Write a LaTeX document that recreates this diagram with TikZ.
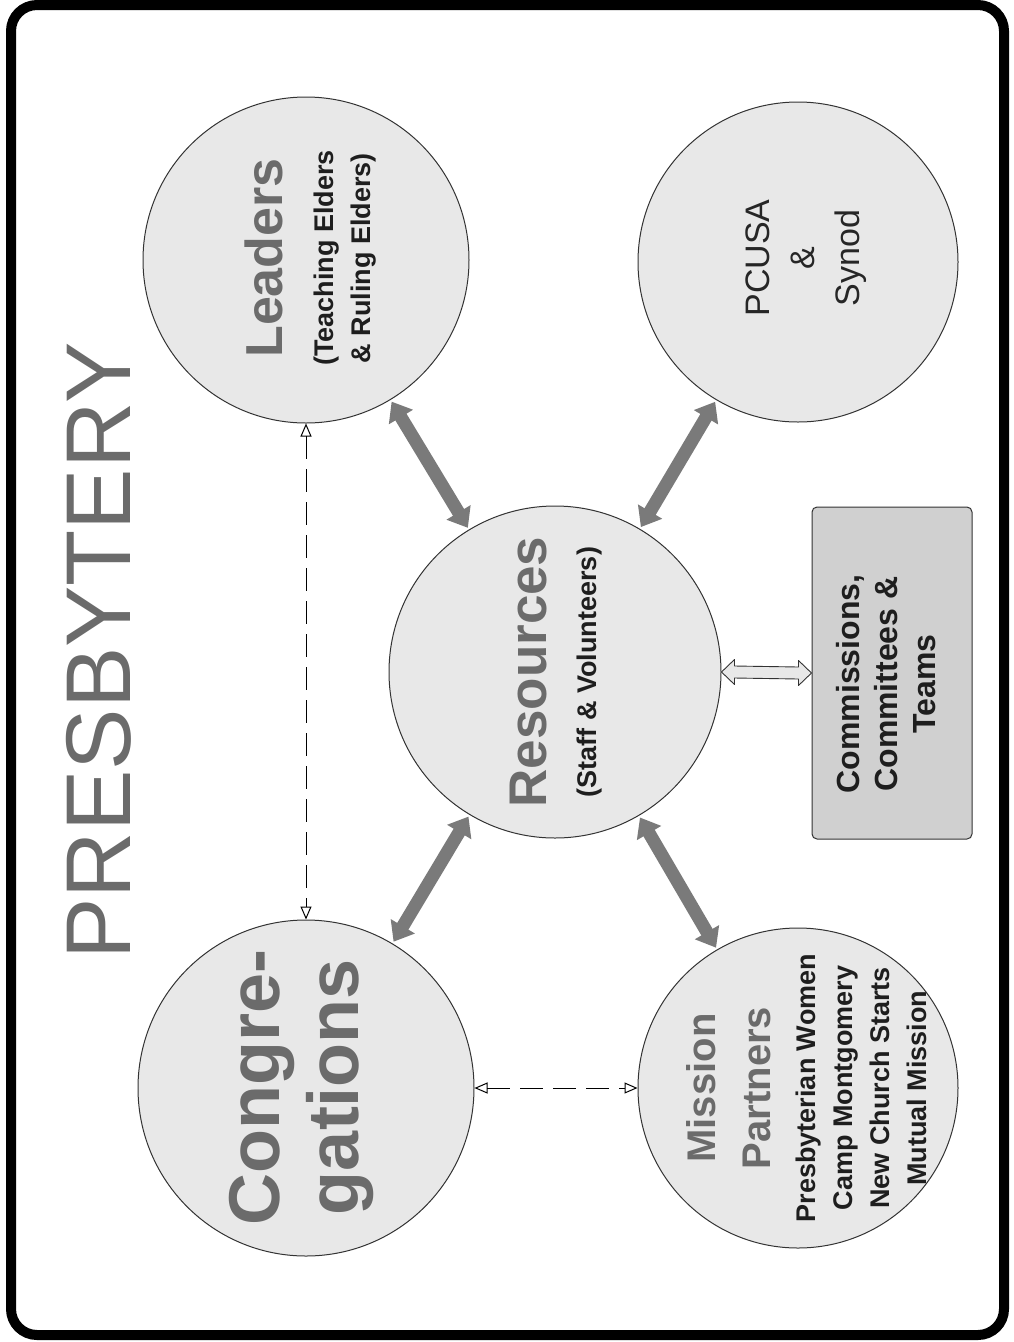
\documentclass[tikz,border=0pt]{standalone}
\usepackage{fontspec}
\setmainfont{Liberation Sans}
\usetikzlibrary{arrows.meta,calc}

\definecolor{bubblegray}{HTML}{E8E8E8}
\definecolor{boxgray}{HTML}{D0D0D0}
\definecolor{labelgray}{HTML}{6B6B6B}
\definecolor{arrowgray}{HTML}{7A7A7A}
\definecolor{inkgray}{HTML}{1E1E1E}

\newcommand{\graylabel}[2]{\fontsize{#1}{#2}\selectfont\bfseries\color{labelgray}}
\newcommand{\smalllabel}{\fontsize{27}{37}\selectfont\bfseries\color{inkgray}}

\begin{document}
\begin{tikzpicture}[x=1pt,y=-1pt,
  bubble/.style={circle,draw=black!80,line width=1pt,fill=bubblegray,minimum size=#1,inner sep=0pt},
  bubble/.default=330pt,
  words/.style={rotate=90,align=center,inner sep=0pt},
  fatarrow/.style={line width=13pt,draw=arrowgray,shorten >=2pt,shorten <=2pt,
    {Triangle[width=27pt,length=18pt]}-{Triangle[width=27pt,length=18pt]}},
  dashline/.style={line width=1pt,dash pattern=on 23pt off 10pt,
    {Triangle[open,length=13pt,width=11pt]}-{Triangle[open,length=13pt,width=11pt]}}]
\useasboundingbox (0,0) rectangle (1014,1342);

% frame and title
\draw[line width=10pt,rounded corners=26pt] (11,5) rectangle (1004,1335);
\node[words,text=labelgray,font=\fontsize{92}{92}\selectfont] (title) at (99,651) {PRESBYTERY};

% circles
\node[bubble=326pt] (lead) at (306,260) {};
\node[bubble=320pt] (pcusa) at (798,262) {};
\node[bubble=332pt] (res) at (555,672) {};
\node[bubble=336pt] (cong) at (306,1088) {};
\node[bubble=320pt] (miss) at (798,1088) {};
\node[draw=black!80,line width=1pt,fill=boxgray,rounded corners=5pt,
  minimum width=160pt,minimum height=332pt] (teams) at (892,673) {};

% texts
\node[words,font=\smalllabel] (leadText) at (311,258)
  {\graylabel{52}{52}Leaders\\[14pt] \smalllabel(Teaching Elders\\ \smalllabel\& Ruling Elders)};
\node[words,text=black!85,font=\fontsize{34}{45}\selectfont] (pcusaText) at (806,258)
  {PCUSA\\ \&\\ Synod};
\node[words,font=\smalllabel] (resText) at (556,672)
  {\graylabel{53}{53}Resources\\[13pt] \smalllabel(Staff \& Volunteers)};
\node[words,font=\graylabel{72}{79}] (congText) at (301,1087)
  {Congre-\\ \graylabel{72}{79}gations};
\node[words,font=\smalllabel] (missText) at (807,1088)
  {\graylabel{40}{40}Mission\\[18pt] \graylabel{40}{40}Partners\\[8pt]
   \smalllabel Presbyterian Women\\ \smalllabel Camp Montgomery\\
   \smalllabel New Church Starts\\ \smalllabel Mutual Mission};
\node[words,text=inkgray,font=\fontsize{32}{38}\selectfont\bfseries] (teamsText) at (886,684)
  {Commissions,\\ Committees \&\\ Teams};

% links to resources
\draw[fatarrow] (lead) -- (res);
\draw[fatarrow] (pcusa) -- (res);
\draw[fatarrow] (cong) -- (res);
\draw[fatarrow] (miss) -- (res);
\draw[fill=bubblegray,draw=black!80,line width=0.9pt,line join=round]
  (res.east) -- ++(13,-12.5) -- ++(0,6.5) -- ($(teams.west)+(-13,-6)$) -- ++(0,-6.5)
  -- (teams.west) -- ++(-13,12.5) -- ++(0,-6.5) -- ($(res.east)+(13,6)$) -- ++(0,6.5) -- cycle;

% dashed links
\draw[dashline] (lead) -- (cong);
\draw[dashline] (cong) -- (miss);
\end{tikzpicture}
\end{document}
